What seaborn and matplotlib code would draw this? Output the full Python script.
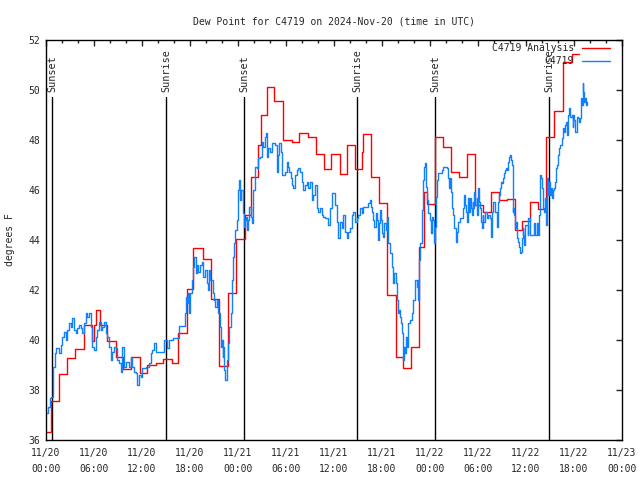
import matplotlib
matplotlib.use('Agg')
import pandas as pd
import seaborn as sns
import matplotlib.pyplot as plt
import matplotlib.dates as mdates

start = pd.Timestamp('2024-11-20 00:00')

# analysis series, hours since start / deg F (step values)
analysis_hours = [0.0, 0.67, 1.63, 2.67, 3.67, 4.75, 5.8, 6.0, 6.2, 6.75, 7.67, 8.7, 9.63, 10.67,
                  11.7, 12.67, 13.7, 14.67, 15.7, 16.54, 17.67, 18.42, 19.67, 20.58, 21.67, 22.7,
                  23.75, 24.875, 25.625, 26.54, 26.83, 27.58, 28.54, 29.58, 30.7, 31.625, 32.8,
                  33.7, 34.8, 35.67, 36.75, 37.67, 38.625, 39.54, 39.67, 40.6, 41.625, 42.58,
                  43.7, 44.67, 45.625, 46.625, 47.2, 47.6, 48.625, 49.58, 50.58, 51.67, 52.58,
                  53.625, 54.67, 55.625, 56.625, 57.67, 58.625, 59.54, 60.5, 61.54, 62.5, 63.5,
                  64.58, 65.7, 66.67]
analysis_vals = [36.3, 37.55, 38.63, 39.27, 39.63, 40.6, 39.95, 40.6, 41.2, 40.6, 39.96, 39.31,
                 38.83, 39.31, 38.67, 38.99, 39.07, 39.23, 39.07, 40.27, 42.03, 43.67, 43.24,
                 41.64, 38.97, 41.9, 44.03, 45.0, 46.53, 47.8, 49.0, 50.13, 49.57, 48.0, 47.9,
                 48.27, 48.13, 47.44, 46.83, 47.44, 46.64, 47.8, 46.83, 47.53, 48.24, 46.53,
                 45.47, 41.8, 39.33, 38.87, 39.7, 43.7, 45.9, 45.44, 48.1, 47.7, 46.7, 46.5,
                 47.43, 45.4, 45.13, 45.9, 45.6, 45.65, 44.4, 44.77, 45.5, 45.24, 48.13, 49.15,
                 51.1, 51.44, 51.44]

# station observations
obs_hours = [0.08, 0.25, 0.46, 0.67, 0.875, 1.08, 1.21, 1.625, 1.83, 2.04, 2.25, 2.46, 2.67,
             2.875, 3.08, 3.29, 3.5, 3.71, 3.92, 4.125, 4.33, 4.54, 4.75, 4.96, 5.17, 5.375,
             5.58, 5.79, 6.0, 6.21, 6.42, 6.625, 6.83, 7.04, 7.25, 7.46, 7.67, 7.875, 8.08,
             8.29, 8.5, 8.71, 8.92, 9.125, 9.33, 9.54, 9.75, 9.96, 10.17, 10.375, 10.58, 10.79,
             11.0, 11.21, 11.42, 11.625, 11.83, 12.04, 12.25, 12.46, 12.67, 12.875, 13.08,
             13.29, 13.5, 13.71, 14.75, 15.17, 15.375, 15.92, 16.67, 17.375, 17.5, 17.58,
             17.79, 17.92, 18.0, 18.21, 18.42, 18.54, 18.75, 18.92, 19.04, 19.25, 19.46, 19.67,
             19.875, 20.08, 20.29, 20.42, 20.5, 20.83, 21.0, 21.125, 21.33, 21.54, 21.75, 21.83,
             21.96, 22.08, 22.17, 22.29, 22.375, 22.58, 22.71, 22.79, 22.92, 23.08, 23.21,
             23.33, 23.5, 23.625, 23.83, 24.04, 24.17, 24.25, 24.375, 24.58, 24.75, 24.875,
             25.0, 25.17, 25.29, 25.42, 25.58, 25.71, 25.92, 26.125, 26.33, 26.54, 26.75,
             26.96, 27.17, 27.375, 27.5, 27.67, 27.79, 28.0, 28.21, 28.625, 28.83, 29.04,
             29.17, 29.33, 29.46, 29.875, 30.08, 30.21, 30.42, 30.58, 30.71, 30.92, 31.125,
             31.33, 31.54, 31.75, 31.96, 32.17, 32.375, 32.58, 32.79, 33.0, 33.21, 33.42,
             33.625, 33.83, 34.04, 34.25, 34.46, 34.67, 34.875, 35.29, 35.5, 35.71, 36.125,
             36.33, 36.54, 36.75, 36.96, 37.17, 37.375, 37.58, 37.79, 38.0, 38.21, 38.42,
             38.625, 38.83, 39.04, 39.25, 39.46, 39.67, 40.08, 40.29, 40.5, 40.625, 40.79,
             40.92, 41.04, 41.21, 41.33, 41.46, 41.625, 41.75, 41.875, 42.04, 42.17, 42.29,
             42.46, 42.58, 42.71, 42.79, 43.0, 43.21, 43.33, 43.54, 43.71, 43.83, 44.04, 44.17,
             44.25, 44.375, 44.54, 44.67, 44.79, 44.875, 44.96, 45.08, 45.29, 45.5, 45.71,
             45.92, 46.125, 46.33, 46.46, 46.54, 46.625, 46.75, 46.96, 47.08, 47.17, 47.29,
             47.375, 47.5, 47.625, 47.79, 48.0, 48.125, 48.21, 48.42, 48.54, 48.625, 48.71,
             48.83, 49.04, 49.46, 49.67, 50.08, 50.29, 50.42, 50.5, 50.58, 50.71, 50.92, 51.04,
             51.25, 51.33, 51.54, 51.75, 51.96, 52.17, 52.25, 52.375, 52.5, 52.67, 52.79, 52.92,
             53.0, 53.08, 53.21, 53.33, 53.42, 53.54, 53.67, 53.83, 53.92, 54.04, 54.17, 54.25,
             54.33, 54.46, 54.58, 54.67, 54.875, 55.08, 55.17, 55.29, 55.5, 55.625, 55.71,
             55.83, 55.92, 56.125, 56.33, 56.54, 56.67, 56.75, 56.83, 56.96, 57.08, 57.25,
             57.375, 57.5, 57.67, 57.79, 57.92, 58.0, 58.125, 58.21, 58.33, 58.42, 58.54,
             58.625, 58.75, 58.92, 59.04, 59.17, 59.25, 59.375, 59.5, 59.58, 59.67, 59.79,
             59.875, 60.08, 60.21, 60.29, 60.5, 60.71, 60.92, 61.04, 61.17, 61.33, 61.46,
             61.67, 61.75, 61.875, 61.96, 62.08, 62.17, 62.29, 62.375, 62.5, 62.58, 62.71,
             62.79, 62.92, 63.0, 63.125, 63.25, 63.42, 63.54, 63.625, 63.75, 63.83, 63.96,
             64.17, 64.25, 64.46, 64.58, 64.67, 64.79, 64.875, 65.0, 65.08, 65.21, 65.42, 65.5,
             65.71, 65.83, 65.92, 66.04, 66.17, 66.33, 66.46, 66.625, 66.75, 66.83, 66.96,
             67.08, 67.17, 67.29, 67.375, 67.5, 67.67]
obs_vals = [37.07, 37.33, 37.67, 37.73, 38.93, 39.47, 39.67, 39.47, 39.8, 40.13, 40.33, 40.0,
            40.4, 40.67, 40.53, 40.87, 40.4, 40.27, 40.47, 40.6, 40.47, 40.27, 40.67, 41.07,
            40.93, 41.09, 40.53, 39.73, 39.6, 40.13, 40.4, 40.73, 40.4, 40.53, 40.73, 40.27,
            40.13, 39.73, 39.2, 39.53, 39.73, 39.67, 39.2, 39.07, 38.73, 39.73, 38.93, 39.13,
            39.13, 38.93, 39.33, 38.93, 38.73, 38.67, 38.2, 38.6, 38.53, 38.87, 38.87, 38.93,
            38.93, 39.07, 39.47, 39.6, 39.87, 39.53, 40.0, 39.67, 40.0, 40.07, 40.56, 41.07,
            41.73, 41.47, 41.87, 41.07, 41.87, 42.4, 42.93, 43.33, 42.67, 43.0, 42.73, 43.0,
            43.13, 42.53, 42.8, 42.27, 42.0, 42.8, 42.4, 41.87, 41.6, 41.33, 41.6, 41.07, 40.53,
            39.73, 40.0, 39.33, 39.73, 38.8, 38.4, 39.2, 39.47, 39.87, 40.53, 41.07, 42.4,
            43.33, 43.87, 44.4, 44.8, 46.0, 46.4, 45.6, 46.0, 45.07, 44.53, 44.8, 44.93, 44.4,
            44.8, 45.33, 44.93, 44.67, 46.0, 46.93, 46.87, 47.27, 47.33, 47.93, 47.73, 48.13,
            48.27, 47.33, 47.67, 47.53, 47.87, 47.8, 46.73, 47.4, 47.87, 47.53, 46.6, 46.73,
            47.13, 46.93, 46.73, 46.47, 46.2, 46.07, 46.6, 46.8, 46.87, 46.73, 46.33, 46.0,
            46.2, 46.33, 46.07, 46.33, 45.6, 45.8, 46.2, 45.27, 45.13, 45.27, 45.0, 44.93,
            44.87, 44.6, 45.27, 45.87, 45.4, 44.73, 44.07, 44.73, 44.47, 45.0, 44.33, 44.07,
            44.33, 44.47, 45.0, 45.13, 44.73, 44.87, 45.0, 45.27, 45.07, 45.33, 45.31, 45.47,
            45.6, 45.33, 45.13, 44.8, 44.53, 45.07, 44.8, 44.0, 44.67, 45.2, 44.8, 44.27, 44.13,
            44.67, 44.4, 44.93, 44.27, 43.87, 43.47, 42.93, 42.27, 42.67, 42.27, 41.6, 41.07,
            41.2, 40.93, 40.67, 40.27, 39.2, 39.73, 39.47, 40.13, 39.73, 40.67, 40.8, 41.07,
            41.6, 42.4, 42.13, 42.4, 41.6, 43.2, 43.87, 45.2, 45.33, 46.4, 46.93, 47.07, 46.13,
            45.6, 45.07, 44.8, 44.27, 44.93, 44.8, 43.87, 44.53, 45.73, 46.4, 46.67, 46.8,
            46.93, 46.87, 46.47, 46.07, 46.47, 45.93, 45.27, 45.0, 44.47, 43.93, 44.33, 44.73,
            44.87, 44.87, 45.27, 45.8, 45.4, 45.13, 44.73, 45.67, 45.13, 45.67, 45.27, 45.0,
            45.53, 45.27, 45.93, 45.4, 45.67, 45.0, 46.07, 45.53, 45.27, 44.73, 44.47, 45.0,
            44.73, 45.13, 45.0, 44.87, 45.0, 44.87, 44.13, 45.13, 45.13, 45.53, 45.13, 44.53,
            45.53, 45.8, 46.07, 46.33, 46.27, 46.47, 46.67, 46.8, 46.87, 46.8, 47.13, 47.33,
            47.4, 47.2, 47.0, 45.13, 45.27, 45.0, 44.47, 44.73, 44.07, 43.93, 43.73, 43.47,
            43.53, 44.07, 44.47, 44.2, 43.8, 44.6, 44.6, 44.2, 44.87, 44.2, 44.2, 44.2, 44.67,
            44.2, 44.67, 44.2, 45.0, 46.6, 46.47, 46.07, 45.53, 45.27, 45.13, 45.67, 44.6,
            46.47, 46.13, 45.8, 46.33, 45.8, 46.07, 45.67, 46.0, 46.07, 46.33, 46.87, 47.0,
            47.4, 47.67, 47.8, 48.07, 48.33, 48.47, 48.33, 48.6, 48.73, 48.2, 49.0, 49.27,
            48.93, 49.0, 48.53, 49.0, 48.8, 48.33, 48.93, 48.87, 48.73, 48.87, 49.67, 49.4,
            50.27, 49.93, 49.53, 49.67, 49.4, 49.53]

# sunrise / sunset markers
event_hours = [0.79, 15.04, 24.79, 38.91, 48.66, 62.91]
event_names = ['Sunset', 'Sunrise', 'Sunset', 'Sunrise', 'Sunset', 'Sunrise']

sns.set_style('white')
plt.rcParams['font.family'] = ['DejaVu Sans Mono']
plt.rcParams['font.size'] = 7

analysis = pd.DataFrame({'time': start + pd.to_timedelta(analysis_hours, unit='h'),
                         'dewpoint': analysis_vals})
obs = pd.DataFrame({'time': start + pd.to_timedelta(obs_hours, unit='h'),
                    'dewpoint': obs_vals})

fig = plt.figure(figsize=(6.4, 4.8), dpi=100)
ax = fig.add_axes([46 / 640, 40 / 480, 576 / 640, 400 / 480])

ymin, ymax = 36, 52
for h, name in zip(event_hours, event_names):
    t = start + pd.Timedelta(hours=h)
    ax.axvline(t, ymin=0, ymax=(49.7 - ymin) / (ymax - ymin), color='black', lw=1.0)
    ax.text(t, 49.93, name, rotation=90, ha='center', va='bottom', fontsize=7.3)

sns.lineplot(data=analysis, x='time', y='dewpoint', drawstyle='steps-post', estimator=None,
             color='#ff0000', lw=1.0, label='C4719 Analysis', ax=ax)
sns.lineplot(data=obs, x='time', y='dewpoint', drawstyle='steps-post', estimator=None,
             color='#1080ff', lw=1.0, label='C4719', ax=ax)

ax.set_xlim(start, start + pd.Timedelta(days=3))
ax.set_ylim(ymin, ymax)
ax.set_yticks(range(36, 53, 2))
ax.xaxis.set_major_locator(mdates.HourLocator(byhour=[0, 6, 12, 18]))
ax.xaxis.set_minor_locator(mdates.HourLocator(byhour=range(0, 24, 2)))
ax.xaxis.set_major_formatter(mdates.DateFormatter('%m/%d\n%H:%M'))
ax.tick_params(which='both', direction='in', top=True, right=True, labelsize=7, width=1)
ax.tick_params(which='major', length=4)
ax.tick_params(which='minor', length=2.5)
ax.tick_params(axis='x', pad=6)
ax.tick_params(axis='y', pad=4)
for s in ax.spines.values():
    s.set_linewidth(1.0)
    s.set_color('black')

ax.set_xlabel('')
ax.set_ylabel('degrees F', fontsize=7)
ax.yaxis.set_label_coords(-36 / 576, 0.5)
ax.yaxis.label.set_verticalalignment('center')
ax.set_title('Dew Point for C4719 on 2024-Nov-20 (time in UTC)', fontsize=7, pad=11)

leg = ax.legend(loc='upper right', bbox_to_anchor=(1 - 12 / 576, 1 - 3 / 400), frameon=False,
                markerfirst=False, fontsize=7, handlelength=2.9, handletextpad=0.8,
                labelspacing=0.35, borderpad=0, borderaxespad=0)

plt.setp(ax.get_xticklabels(), linespacing=1.65)

fig.savefig('out.png', dpi=100)
plt.close()
